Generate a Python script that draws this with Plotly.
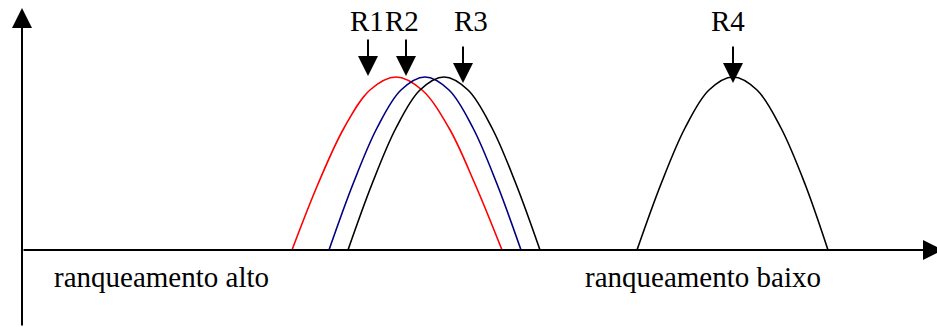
import plotly.graph_objects as go

# Curves (x = rank position, y = height)
r1_x = [270, 296, 322, 348, 374, 400, 427, 453, 480]
r1_y = [0, 66, 122, 160, 173, 160, 122, 66, 0]
r2_x = [307, 331, 355, 379, 403, 427, 451, 475, 499]
r2_y = [0, 66, 122, 160, 173, 160, 122, 66, 0]
r3_x = [326, 350, 374, 398, 422, 446, 470, 494, 518]
r3_y = [0, 66, 122, 160, 173, 160, 122, 66, 0]
r4_x = [615, 639, 663, 687, 711, 735, 759, 783, 806]
r4_y = [0, 66, 122, 160, 173, 160, 122, 66, 0]
curve_colors = ["#FF0000", "#000080", "#000000", "#000000"]

# Pointer arrows and labels
label_names = ["R1", "R2", "R3", "R4"]
label_x = [345, 380, 449, 706]
label_y = [229, 229, 229, 229]
arrow_x = [346, 384, 441, 711]
arrow_tail_y = [212, 212, 205, 205]
arrow_tip_y = [174, 174, 167, 167]

axis_labels = ["ranqueamento alto", "ranqueamento baixo"]
axis_label_x = [30, 561]
axis_label_y = [-27, -27]

X_MIN, X_MAX = -22, 915
Y_MIN, Y_MAX = -77, 250
X_TIP, Y_TIP = 921, 242

FONT = "'Times New Roman', 'Liberation Serif', 'DejaVu Serif', serif"

fig = go.Figure()
for xs, ys, col in zip([r1_x, r2_x, r3_x, r4_x], [r1_y, r2_y, r3_y, r4_y], curve_colors):
    fig.add_trace(go.Scatter(x=xs, y=ys, mode="lines",
                             line=dict(color=col, width=1.6, shape="spline", smoothing=1.0),
                             hoverinfo="skip", showlegend=False))

ann = []
# axes with arrowheads
ann.append(dict(x=0, y=Y_TIP, ax=0, ay=Y_MIN, xref="x", yref="y", axref="x", ayref="y",
                text="", showarrow=True, arrowhead=2, arrowsize=2, arrowwidth=2,
                arrowcolor="black", standoff=0))
ann.append(dict(x=X_TIP, y=0, ax=0, ay=0, xref="x", yref="y", axref="x", ayref="y",
                text="", showarrow=True, arrowhead=2, arrowsize=2, arrowwidth=2,
                arrowcolor="black", standoff=0))
for ax_, ty, hy in zip(arrow_x, arrow_tail_y, arrow_tip_y):
    ann.append(dict(x=ax_, y=hy, ax=ax_, ay=ty, xref="x", yref="y", axref="x", ayref="y",
                    text="", showarrow=True, arrowhead=2, arrowsize=2, arrowwidth=2,
                    arrowcolor="black", standoff=0))
for name, lx, ly in zip(label_names, label_x, label_y):
    ann.append(dict(x=lx, y=ly, xref="x", yref="y", text=name, showarrow=False,
                    xanchor="center", yanchor="middle",
                    font=dict(family=FONT, size=29, color="black")))
for name, lx, ly in zip(axis_labels, axis_label_x, axis_label_y):
    ann.append(dict(x=lx, y=ly, xref="x", yref="y", text=name, showarrow=False,
                    xanchor="left", yanchor="middle",
                    font=dict(family=FONT, size=29, color="black")))

fig.update_layout(
    width=937, height=327,
    margin=dict(l=0, r=0, t=0, b=0),
    paper_bgcolor="white", plot_bgcolor="white",
    font=dict(family=FONT, size=29, color="black"),
    xaxis=dict(range=[X_MIN, X_MAX], visible=False, fixedrange=True),
    yaxis=dict(range=[Y_MIN, Y_MAX], visible=False, fixedrange=True),
    annotations=ann,
    showlegend=False,
)
fig.write_html("out.html", config={"displayModeBar": False},
               post_script="document.body.style.margin='0';document.body.style.overflow='hidden';")
